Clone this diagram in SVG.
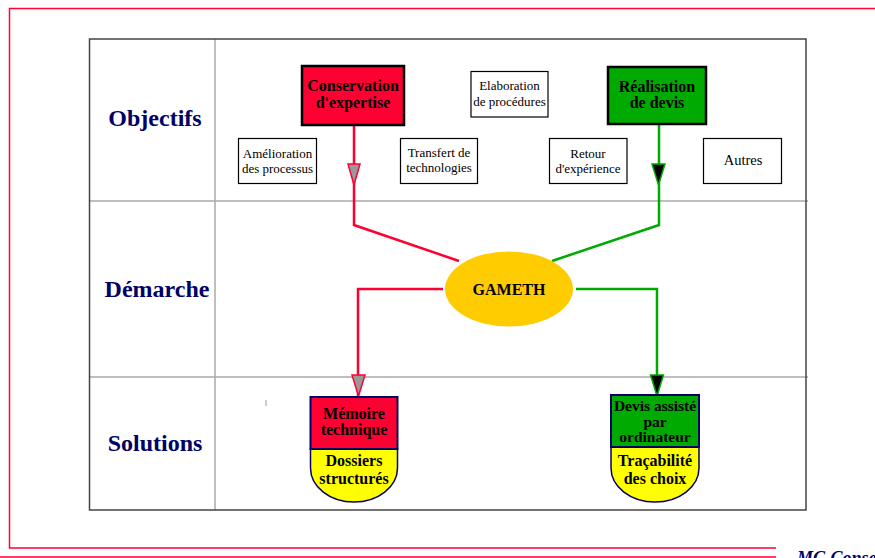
<svg xmlns="http://www.w3.org/2000/svg" width="875" height="558" viewBox="0 0 875 558">
<style>
text{font-family:"Liberation Serif","Times New Roman",serif;text-anchor:middle;fill:#000}
.lbl{font-size:24px;font-weight:bold;fill:#000066}
.sm{font-size:13px}
.bd{font-weight:bold;font-size:16px}
.bb{font-weight:bold;font-size:16px}
.bx{fill:#fff;stroke:#000;stroke-width:1.2}
.red{stroke:#ff0033;stroke-width:2.5;fill:none}
.grn{stroke:#00aa00;stroke-width:2.5;fill:none}
.grid{stroke:#aaa;stroke-width:1.5}
.shield{fill:#ffff00;stroke:#000066;stroke-width:1.5}
</style>
<rect width="875" height="558" fill="#fff"/>
<g id="frame" fill="none" stroke="#ff0033" stroke-width="1.5">
<path d="M875,8.5 H9.5 V548 H776"/>
<path d="M0,557 H776"/>
</g>
<text x="797" y="564" style="font-size:18px;font-weight:bold;font-style:italic;fill:#000066;text-anchor:start">MG Conse</text>
<g id="table">
<line class="grid" x1="215" y1="39" x2="215" y2="510"/>
<line class="grid" x1="89.5" y1="201" x2="808" y2="201"/>
<line class="grid" x1="89.5" y1="377" x2="808" y2="377"/>
<rect x="89.5" y="39" width="716.5" height="471" fill="none" stroke="#444" stroke-width="1.5"/>
<line x1="266" y1="400" x2="266" y2="406" stroke="#999" stroke-width="1"/>
</g>
<g id="labels">
<text class="lbl" x="155" y="126">Objectifs</text>
<text class="lbl" x="157" y="297">Démarche</text>
<text class="lbl" x="155" y="451">Solutions</text>
</g>
<g id="connectors">
<polyline class="red" points="354,125 354,225 459,261"/>
<polyline class="grn" points="659,124 659,225 552,261"/>
<polyline class="red" points="443,289 358,289 358,396"/>
<polyline class="grn" points="576,289 657,289 657,396"/>
<polygon points="348,164 360,164 354,185" fill="#999" stroke="#ff0033" stroke-width="1.5"/>
<polygon points="652,164 665,164 658.5,185" fill="#000" stroke="#00aa00" stroke-width="1.5"/>
<polygon points="352,375 365,375 358.5,396" fill="#999" stroke="#ff0033" stroke-width="1.5"/>
<polygon points="650.5,375 663.5,375 657,396" fill="#000" stroke="#00aa00" stroke-width="1.5"/>
</g>
<g id="conservation">
<rect x="302" y="66" width="102" height="59" fill="#ff0033" stroke="#000" stroke-width="2.5"/>
<text class="bd" x="353" y="91">Conservation</text>
<text class="bd" x="353" y="108">d'expertise</text>
</g>
<g id="elaboration">
<rect class="bx" x="471" y="71.5" width="77" height="45.5"/>
<text class="sm" x="509.5" y="90">Elaboration</text>
<text class="sm" x="509.5" y="106">de procédures</text>
</g>
<g id="realisation">
<rect x="608" y="67" width="98" height="57" fill="#00aa00" stroke="#000" stroke-width="2.5"/>
<text class="bd" x="657" y="92">Réalisation</text>
<text class="bd" x="657" y="108">de devis</text>
</g>
<g id="amelioration">
<rect class="bx" x="238.5" y="138.5" width="78" height="45"/>
<text class="sm" x="277.5" y="158">Amélioration</text>
<text class="sm" x="277.5" y="173">des processus</text>
</g>
<g id="transfert">
<rect class="bx" x="400.5" y="138.5" width="77" height="45"/>
<text class="sm" x="439" y="157">Transfert de</text>
<text class="sm" x="439" y="172">technologies</text>
</g>
<g id="retour">
<rect class="bx" x="549.5" y="138.5" width="77.5" height="45"/>
<text class="sm" x="588" y="158">Retour</text>
<text class="sm" x="588" y="173">d'expérience</text>
</g>
<g id="autres">
<rect class="bx" x="703.5" y="138.5" width="78" height="45"/>
<text x="743" y="165" style="font-size:14.5px">Autres</text>
</g>
<g id="gameth">
<ellipse cx="509" cy="289" rx="64" ry="37.5" fill="#ffcc00"/>
<text x="509" y="295" style="font-size:16px;font-weight:bold">GAMETH</text>
</g>
<g id="memoire">
<path class="shield" d="M310.5,449 V468 A43.5,34 0 0 0 397.5,468 V449 Z"/>
<rect x="310.5" y="397" width="87" height="52" fill="#ff0033" stroke="#000066" stroke-width="2"/>
<text class="bd" x="354" y="419">Mémoire</text>
<text class="bd" x="354" y="435">technique</text>
<text class="bb" x="354" y="466">Dossiers</text>
<text class="bb" x="354" y="484">structurés</text>
</g>
<g id="devis">
<path class="shield" d="M611,447 V468 A44,34 0 0 0 699,468 V447 Z"/>
<rect x="611" y="395" width="88" height="52" fill="#00aa00" stroke="#000066" stroke-width="2"/>
<text x="655" y="411" style="font-size:15.5px;font-weight:bold">Devis assisté</text>
<text x="655" y="426.5" style="font-size:15.5px;font-weight:bold">par</text>
<text x="655" y="442" style="font-size:15.5px;font-weight:bold">ordinateur</text>
<text class="bb" x="655" y="466">Traçabilité</text>
<text class="bb" x="655" y="484">des choix</text>
</g>
</svg>
